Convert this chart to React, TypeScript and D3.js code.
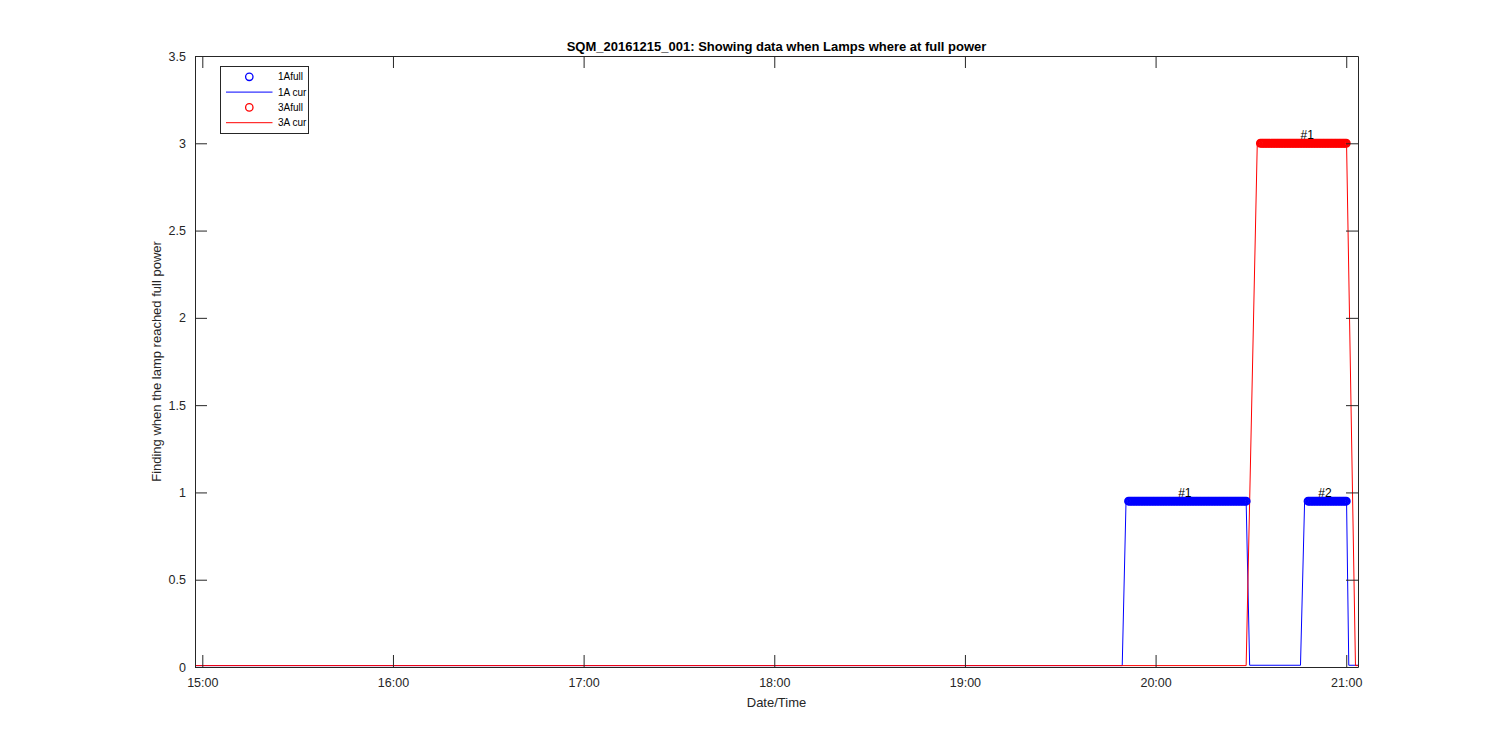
import { useEffect, useRef } from 'react';
import * as d3 from 'd3';

// all times are minutes after 15:00 on 2016-12-15
const xDomain = [-2.3, 363.7];
const xTickLabels = ['15:00', '16:00', '17:00', '18:00', '19:00', '20:00', '21:00'];
const yTicks = [0, 0.5, 1, 1.5, 2, 2.5, 3, 3.5];

// lamp current traces (line vertices)
const cur1AMinutes = [-2.3, 289.5, 290.7, 328.5, 329.6, 345.6, 346.9, 360.1, 360.8, 363.7];
const cur1AValues = [0.008, 0.008, 0.95, 0.95, 0.01, 0.01, 0.95, 0.95, 0.01, 0.01];
const cur3AMinutes = [-2.3, 328.5, 332.0, 360.1, 362.9, 363.7];
const cur3AValues = [0.008, 0.008, 3.0, 3.0, 0.008, 0.008];

// samples flagged as "full power"
const full1AMinutes = [
  291.5, 292, 292.5, 293, 293.5, 294, 294.5, 295, 295.5, 296, 296.5, 297, 297.5, 298, 298.5,
  299, 299.5, 300, 300.5, 301, 301.5, 302, 302.5, 303, 303.5, 304, 304.5, 305, 305.5, 306,
  306.5, 307, 307.5, 308, 308.5, 309, 309.5, 310, 310.5, 311, 311.5, 312, 312.5, 313, 313.5,
  314, 314.5, 315, 315.5, 316, 316.5, 317, 317.5, 318, 318.5, 319, 319.5, 320, 320.5, 321,
  321.5, 322, 322.5, 323, 323.5, 324, 324.5, 325, 325.5, 326, 326.5, 327, 327.5, 328, 328.5,
  348, 348.5, 349, 349.5, 350, 350.5, 351, 351.5, 352, 352.5, 353, 353.5, 354, 354.5, 355,
  355.5, 356, 356.5, 357, 357.5, 358, 358.5, 359, 359.5, 360,
];
const full1ALevel = 0.95;
const full3AMinutes = [
  333, 333.5, 334, 334.5, 335, 335.5, 336, 336.5, 337, 337.5, 338, 338.5, 339, 339.5, 340,
  340.5, 341, 341.5, 342, 342.5, 343, 343.5, 344, 344.5, 345, 345.5, 346, 346.5, 347, 347.5,
  348, 348.5, 349, 349.5, 350, 350.5, 351, 351.5, 352, 352.5, 353, 353.5, 354, 354.5, 355,
  355.5, 356, 356.5, 357, 357.5, 358, 358.5, 359, 359.5, 360,
];
const full3ALevel = 3.0;

const peakLabels = ['#1', '#2', '#1'];
const peakMinutes = [309.2, 353.3, 347.7];
const peakValues = [1.0, 1.0, 3.05];

const legendLabels = ['1Afull', '1A cur', '3Afull', '3A cur'];
const legendColors = ['#0000ff', '#0000ff', '#ff0000', '#ff0000'];

const base = new Date(2016, 11, 15, 15, 0, 0);
const toDate = (m: number) => new Date(base.getTime() + m * 60000);

const FONT = '"Liberation Sans", Arial, Helvetica, sans-serif';
const AXIS = '#262626';

function LampChart() {
  const svgRef = useRef<SVGSVGElement | null>(null);

  useEffect(() => {
    document.body.style.margin = '0';

    const W = 1500;
    const H = 750;
    const margin = { top: 56, right: 142, bottom: 83, left: 195 };
    const width = W - margin.left - margin.right;
    const height = H - margin.top - margin.bottom;

    // Clear previous chart
    d3.select(svgRef.current).selectAll('*').remove();

    const root = d3.select(svgRef.current).attr('width', W).attr('height', H);
    root.append('rect').attr('width', W).attr('height', H).attr('fill', '#fff');

    const svg = root.append('g').attr('transform', `translate(${margin.left},${margin.top})`);

    const x = d3.scaleTime().domain(xDomain.map(toDate)).range([0, width]);
    const y = d3.scaleLinear().domain([0, 3.5]).range([height, 0]);

    const tickDates = xTickLabels.map((s) => {
      const [h, m] = s.split(':').map(Number);
      return toDate((h - 15) * 60 + m);
    });

    svg.append('clipPath').attr('id', 'plot-clip')
      .append('rect').attr('width', width).attr('height', height);

    const plot = svg.append('g').attr('clip-path', 'url(#plot-clip)');

    const line = d3.line<[number, number]>()
      .x((d) => x(toDate(d[0])))
      .y((d) => y(d[1]));

    const drawMarkers = (mins: number[], level: number, color: string) => {
      svg.append('g')
        .selectAll('circle')
        .data(mins)
        .enter()
        .append('circle')
        .attr('cx', (d) => x(toDate(d)))
        .attr('cy', y(level))
        .attr('r', 3.5)
        .attr('fill', 'none')
        .attr('stroke', color)
        .attr('stroke-width', 2);
    };

    drawMarkers(full1AMinutes, full1ALevel, '#0000ff');
    plot.append('path')
      .datum(cur1AMinutes.map((m, i) => [m, cur1AValues[i]] as [number, number]))
      .attr('d', line)
      .attr('fill', 'none')
      .attr('stroke', '#0000ff')
      .attr('stroke-width', 1);

    drawMarkers(full3AMinutes, full3ALevel, '#ff0000');
    plot.append('path')
      .datum(cur3AMinutes.map((m, i) => [m, cur3AValues[i]] as [number, number]))
      .attr('d', line)
      .attr('fill', 'none')
      .attr('stroke', '#ff0000')
      .attr('stroke-width', 1);

    // peak labels
    svg.selectAll('.peak-label')
      .data(peakLabels)
      .enter()
      .append('text')
      .attr('class', 'peak-label')
      .attr('x', (d, i) => x(toDate(peakMinutes[i])))
      .attr('y', (d, i) => y(peakValues[i]))
      .attr('dy', '0.35em')
      .attr('text-anchor', 'middle')
      .style('font-family', FONT)
      .style('font-size', '12px')
      .style('fill', '#000')
      .text((d) => d);

    const styleAxis = (g: any) => {
      g.attr('font-family', FONT).attr('font-size', 12.5);
      g.selectAll('path, line').attr('stroke', AXIS);
      g.selectAll('text').attr('fill', AXIS);
    };

    // Add X axis
    svg.append('g')
      .attr('transform', `translate(0,${height})`)
      .call(d3.axisBottom(x).tickValues(tickDates).tickFormat(d3.timeFormat('%H:%M') as any)
        .tickSizeInner(-12).tickSizeOuter(0).tickPadding(11))
      .call(styleAxis);

    svg.append('g')
      .call(d3.axisTop(x).tickValues(tickDates).tickFormat(() => '')
        .tickSizeInner(-12).tickSizeOuter(0))
      .call(styleAxis);

    // Add Y axis
    svg.append('g')
      .call(d3.axisLeft(y).tickValues(yTicks).tickFormat((d) => String(d))
        .tickSizeInner(-12).tickSizeOuter(0).tickPadding(9))
      .call(styleAxis);

    svg.append('g')
      .attr('transform', `translate(${width},0)`)
      .call(d3.axisRight(y).tickValues(yTicks).tickFormat(() => '')
        .tickSizeInner(-12).tickSizeOuter(0))
      .call(styleAxis);

    // title and axis labels
    root.append('text')
      .attr('x', margin.left + width / 2)
      .attr('y', 51)
      .attr('text-anchor', 'middle')
      .style('font-family', FONT)
      .style('font-size', '13px')
      .style('font-weight', 'bold')
      .style('fill', '#000')
      .text('SQM_20161215_001: Showing data when Lamps where at full power');

    root.append('text')
      .attr('x', margin.left + width / 2)
      .attr('y', 706.5)
      .attr('text-anchor', 'middle')
      .style('font-family', FONT)
      .style('font-size', '13px')
      .style('fill', AXIS)
      .text('Date/Time');

    root.append('text')
      .attr('transform', `translate(161,${margin.top + height / 2}) rotate(-90)`)
      .attr('text-anchor', 'middle')
      .style('font-family', FONT)
      .style('font-size', '13px')
      .style('fill', AXIS)
      .text('Finding when the lamp reached full power');

    // legend
    const legend = root.append('g');
    legend.append('rect')
      .attr('x', 220.5)
      .attr('y', 66.5)
      .attr('width', 88)
      .attr('height', 67)
      .attr('fill', '#fff')
      .attr('stroke', AXIS);

    legendLabels.forEach((label, i) => {
      const ly = 76.8 + i * 15.3;
      if (i % 2 === 0) {
        legend.append('circle')
          .attr('cx', 249.3)
          .attr('cy', ly)
          .attr('r', 3.7)
          .attr('fill', 'none')
          .attr('stroke', legendColors[i])
          .attr('stroke-width', 1.3);
      } else {
        legend.append('line')
          .attr('x1', 226)
          .attr('x2', 272.5)
          .attr('y1', ly)
          .attr('y2', ly)
          .attr('stroke', legendColors[i])
          .attr('stroke-width', 1);
      }
      legend.append('text')
        .attr('x', 278)
        .attr('y', ly)
        .attr('dy', '0.35em')
        .style('font-family', FONT)
        .style('font-size', '10px')
        .style('fill', '#000')
        .text(label);
    });
  }, []);

  return <svg ref={svgRef} style={{ display: 'block' }}></svg>;
}

export default function App() {
  return <LampChart />;
}
